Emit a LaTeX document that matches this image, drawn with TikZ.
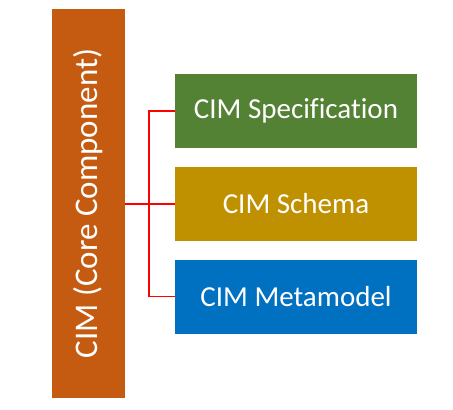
\documentclass[tikz,border=0pt]{standalone}
\usepackage{fontspec}
\setmainfont{Carlito}[Ligatures=NoCommon]
\usetikzlibrary{positioning}
\definecolor{coreorange}{HTML}{C55A11}
\definecolor{specgreen}{HTML}{548235}
\definecolor{schemagold}{HTML}{BF9000}
\definecolor{metablue}{HTML}{0070C0}
\begin{document}
\begin{tikzpicture}[x=1pt,y=-1pt,
    part/.style={minimum width=242pt,minimum height=74pt,inner sep=0pt,
                 text=white,font=\fontsize{29}{34}\selectfont},
    link/.style={red,line width=1.3pt}]
  \useasboundingbox (0,0) rectangle (453,410);
  % draw core bar
  \node (core) [fill=coreorange,minimum width=73pt,minimum height=389pt,
        inner sep=0pt] at (88.5,203.5) {};
  \node [rotate=90,text=white,font=\fontsize{33}{38}\selectfont]
        at (core.center) {CIM (Core Component)};
  % draw parts
  \node (spec)   [part,fill=specgreen]  at (296,111)   {CIM Specification};
  \node (schema) [part,fill=schemagold] at (296,204)   {CIM Schema};
  \node (meta)   [part,fill=metablue]   at (296,296.5) {CIM Metamodel};
  % draw links
  \coordinate (fork) at (149,204);
  \draw [link,line width=2pt] (core.east |- fork) -- (fork);
  \draw [link] (fork) -- (schema.west);
  \draw [link] (spec.west) -| (fork) |- (meta.west);
\end{tikzpicture}
\end{document}
